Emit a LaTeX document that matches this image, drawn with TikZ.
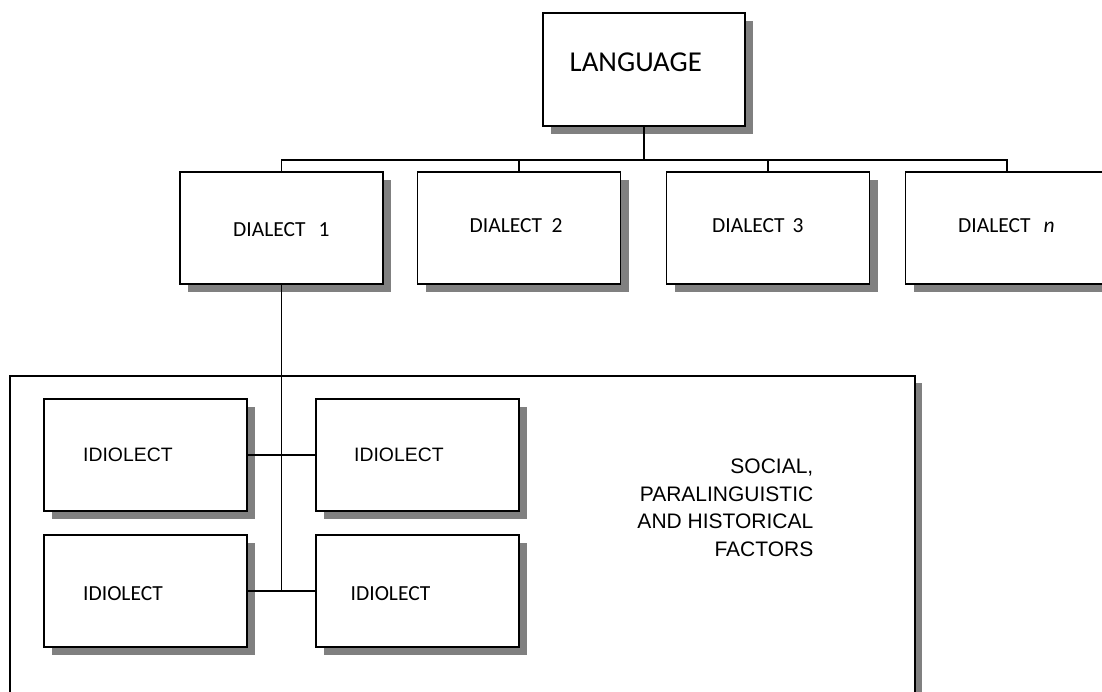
\documentclass[tikz,border=0pt]{standalone}
\usepackage{fontspec}
\setmainfont{Carlito}
\newfontfamily\arialfont{Liberation Sans}
\usetikzlibrary{shadows}

\begin{document}
\begin{tikzpicture}[x=1pt, y=-1pt,
	box/.style={draw, line width=1.4pt, fill=white, inner sep=0pt,
		minimum width=203pt, minimum height=112pt,
		drop shadow={shadow xshift=8pt, shadow yshift=-8pt, fill=black!50, opacity=1}},
	lbl/.style={inner sep=0pt, anchor=base west},
	conn/.style={line width=1.3pt}]
	\useasboundingbox (0,0) rectangle (1102,691);
	\clip (0,0) rectangle (1102,691);
	% the frame of outside factors
	\draw[line width=1.3pt, fill=white,
		drop shadow={shadow xshift=7pt, shadow yshift=-7pt, fill=black!50, opacity=1}]
		(10,376) rectangle (915,730);
	\node[inner sep=0pt, anchor=north east, align=right,
		font=\arialfont\fontsize{21}{27.5}\selectfont] (factors) at (813.5,459)
		{SOCIAL,\\PARALINGUISTIC\\AND HISTORICAL\\FACTORS};
	% language and its dialects
	\node[box, minimum width=202pt, minimum height=113pt] (lang) at (644,69.5) {};
	\foreach \n/\x in {d1/281.5, d2/519, d3/768, dn/1007}
		\node[box] (\n) at (\x,228) {};
	\node[lbl, font=\fontsize{28.8}{34}\selectfont] (langtxt) at (569.5,71.7) {LANGUAGE};
	\node[lbl, font=\fontsize{21.5}{25}\selectfont] (d1txt) at (233,236.7) {DIALECT\hspace{13pt}1};
	\node[lbl, font=\fontsize{21.5}{25}\selectfont] (d2txt) at (469.5,232.7) {DIALECT\hspace{9.5pt}2};
	\node[lbl, font=\fontsize{21.5}{25}\selectfont] (d3txt) at (712,232.7) {DIALECT\hspace{8pt}3};
	\node[lbl, font=\fontsize{21.5}{25}\selectfont] (dntxt) at (958,232.5) {DIALECT\hspace{13pt}\textit{n}};
	% idiolects
	\node[box] (ul) at (145.3,455) {};
	\node[box] (ur) at (417.3,455) {};
	\node[box] (ll) at (145.3,591) {};
	\node[box] (lr) at (417.3,591) {};
	\node[lbl, font=\arialfont\fontsize{19.4}{23}\selectfont] (ultxt) at (83,461) {IDIOLECT};
	\node[lbl, font=\arialfont\fontsize{19.4}{23}\selectfont] (urtxt) at (354,461) {IDIOLECT};
	\node[lbl, font=\fontsize{21.5}{25}\selectfont] (lltxt) at (83,600) {IDIOLECT};
	\node[lbl, font=\fontsize{21.5}{25}\selectfont] (lrtxt) at (350.5,600) {IDIOLECT};
	% connectors
	\coordinate (bus) at (644,160);
	\draw[conn] (lang.south) -- (bus);
	\foreach \n in {d1,d2,d3,dn}
		\draw[conn] (\n.north) |- (bus);
	\coordinate (join) at (d1.south |- ll.east);
	\draw[conn] (d1.south) -- (join);
	\draw[conn] (ul.east) -- (ur.west);
	\draw[conn] (ll.east) -- (lr.west);
\end{tikzpicture}
\end{document}
